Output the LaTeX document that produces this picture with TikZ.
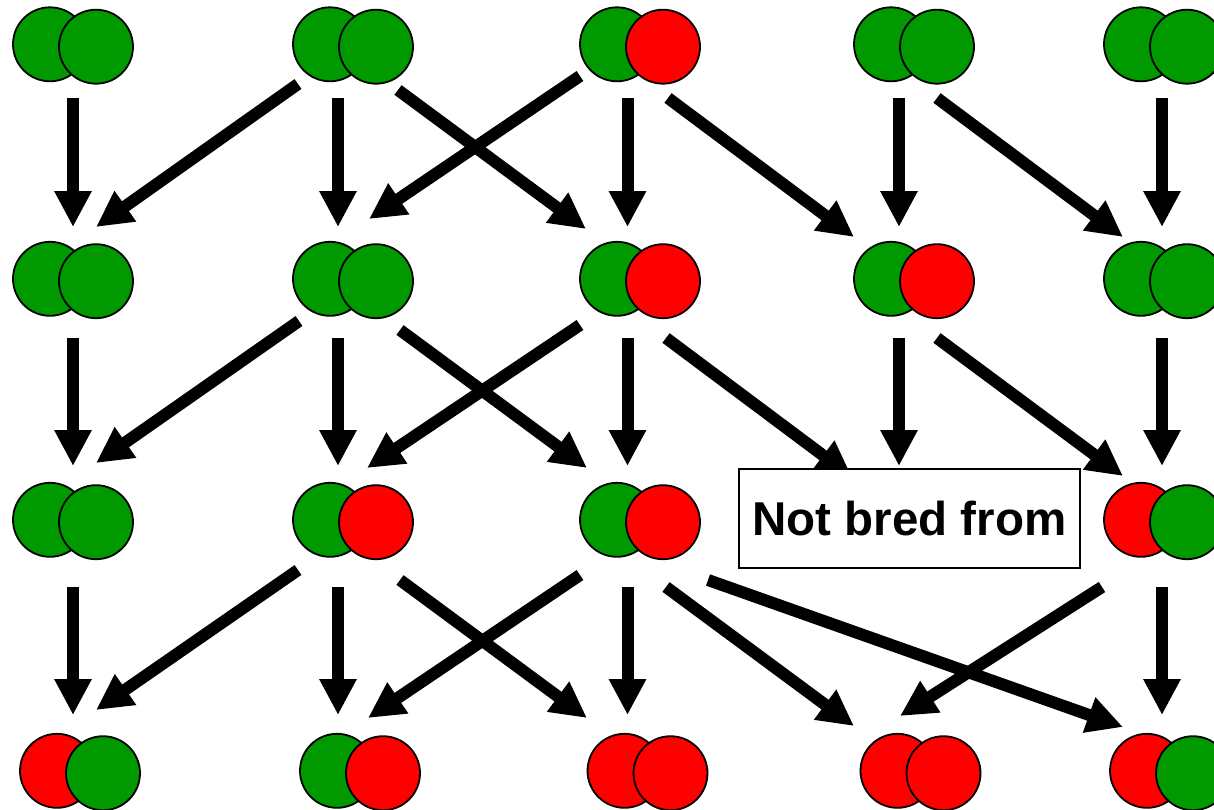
\documentclass[tikz,border=0pt]{standalone}
\usepackage{fontspec}
\setmainfont{Liberation Sans}
\usetikzlibrary{arrows.meta,calc}

\definecolor{allelegreen}{RGB}{0,153,0}
\definecolor{allelered}{RGB}{255,0,0}

\tikzset{
  pairbox/.style={rectangle,inner sep=0pt,minimum width=120pt,minimum height=76pt},
  disc/.style={draw=black,line width=1.8pt},
  arr/.style={line width=12pt,-{Triangle[length=36pt,width=35pt]}},
  notebox/.style={draw=black,line width=1.6pt,fill=white,inner sep=0pt,
    minimum width=341pt,minimum height=99pt,
    font=\bfseries\fontsize{47.5}{57}\selectfont}
}

% a pair of overlapping alleles: name, x, y, left colour, right colour
\newcommand\gpair[5]{%
  \node[pairbox] (#1) at (#2,#3) {};
  \draw[disc,fill=#4] ($(#1)+(-23,-1.2)$) circle[radius=37pt];
  \draw[disc,fill=#5] ($(#1)+(23,1.2)$) circle[radius=37pt];
}
% arrow from one pair to another, each end offset from the pair centre
\newcommand\glink[4]{\draw[arr] ($(#1)+(#2)$) -- ($(#3)+(#4)$);}

\begin{document}
\begin{tikzpicture}[x=1pt,y=-1pt]
\useasboundingbox (0,0) rectangle (1214,809);
\clip (0,0) rectangle (1214,809);

% generation 1
\gpair{p11}{73}{45.5}{allelegreen}{allelegreen}
\gpair{p12}{353}{45.5}{allelegreen}{allelegreen}
\gpair{p13}{640}{45.5}{allelegreen}{allelered}
\gpair{p14}{914}{45.5}{allelegreen}{allelegreen}
\gpair{p15}{1164}{45.5}{allelegreen}{allelegreen}
% generation 2
\gpair{p21}{73}{280}{allelegreen}{allelegreen}
\gpair{p22}{353}{280}{allelegreen}{allelegreen}
\gpair{p23}{640}{280}{allelegreen}{allelered}
\gpair{p24}{914}{280}{allelegreen}{allelered}
\gpair{p25}{1164}{280}{allelegreen}{allelegreen}
% generation 3
\gpair{p31}{73}{521}{allelegreen}{allelegreen}
\gpair{p32}{353}{521}{allelegreen}{allelered}
\gpair{p33}{640}{521}{allelegreen}{allelered}
\gpair{p35}{1164}{521}{allelered}{allelegreen}
% generation 4
\gpair{p41}{80}{772}{allelered}{allelegreen}
\gpair{p42}{360}{772}{allelegreen}{allelered}
\gpair{p43}{647.5}{772}{allelered}{allelered}
\gpair{p44}{920.5}{772}{allelered}{allelered}
\gpair{p45}{1170}{772}{allelered}{allelegreen}

\coordinate (nbc) at (909.5,518.5);

% generation 1 -> 2
\glink{p11}{0,52.5}{p21}{0,-53}
\glink{p12}{-55,38.5}{p21}{23,-53}
\glink{p12}{-15,52.5}{p22}{-15,-53}
\glink{p12}{45,44.5}{p23}{-54,-51}
\glink{p13}{-60,30.5}{p22}{16,-61}
\glink{p13}{-12.5,52.5}{p23}{-12.5,-53}
\glink{p13}{28,52.5}{p24}{-60,-43}
\glink{p14}{-15,52.5}{p24}{-15,-53}
\glink{p14}{23,52.5}{p25}{-41,-43}
\glink{p15}{-2,52.5}{p25}{-2,-53}

% generation 2 -> 3
\glink{p21}{0,58}{p31}{0,-55}
\glink{p22}{-54,41}{p31}{23,-58}
\glink{p22}{-15,58}{p32}{-15,-55}
\glink{p22}{47,50}{p33}{-53,-53}
\glink{p23}{-60,45}{p32}{14,-53}
\glink{p23}{-12.5,58}{p33}{-12.5,-55}
\glink{p23}{26,58}{nbc}{-57.5,-41.5}
\glink{p24}{-15,58}{nbc}{-10.5,-52.5}
\glink{p24}{23,58}{p35}{-41,-45}
\glink{p25}{-2,58}{p35}{-2,-55}

% generation 3 -> 4
\glink{p31}{0,66}{p41}{-7,-57}
\glink{p32}{-55,49}{p41}{16,-62}
\glink{p32}{-15,66}{p42}{-22,-57}
\glink{p32}{47,59}{p43}{-60.5,-54}
\glink{p33}{-60,54}{p42}{8,-54}
\glink{p33}{-12.5,66}{p43}{-20,-57}
\glink{p33}{26,66}{p44}{-66.5,-46}
\glink{p33}{68,59}{p45}{-47,-45}
\glink{p35}{-62,66}{p44}{-20.5,-56}
\glink{p35}{-2,66}{p45}{-8,-57}

% the pair that is left out of the breeding
\node[notebox] (nb) at (nbc) {Not bred from};
\end{tikzpicture}
\end{document}
